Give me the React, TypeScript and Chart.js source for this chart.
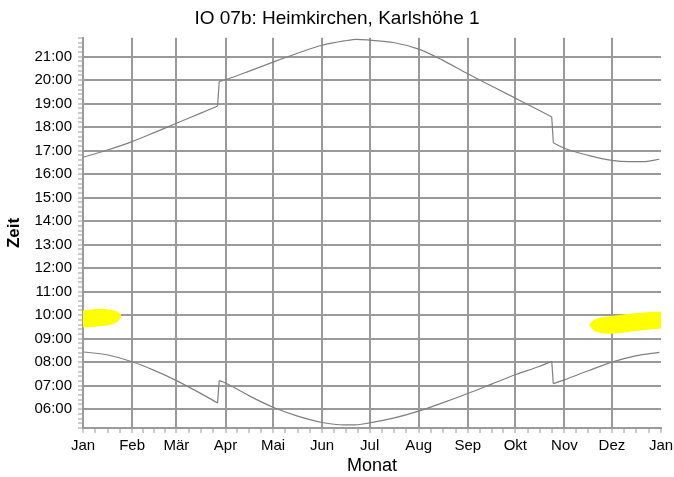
import React, { useEffect, useRef } from "react";
import { Chart, registerables } from "chart.js";

Chart.register(...registerables);

// ---- axis definitions ----
const monthLabels = ["Jan", "Feb", "Mär", "Apr", "Mai", "Jun", "Jul", "Aug", "Sep", "Okt", "Nov", "Dez", "Jan"];
const monthStarts = [0, 31, 59, 90, 120, 151, 181, 212, 243, 273, 304, 334, 365];
const yMinTime = "05:12";
const yMaxTime = "21:48";
const yMinorStepMinutes = 12;

// ---- days of clock change (last day before) ----
const clockChangeDays = [85, 296];

// ---- upper curve (Sonnenuntergang) ----
const sunsetDays = [0, 15, 31, 45, 59, 74, 85, 86, 90, 105, 120, 135, 151, 165, 173, 181, 196, 212, 227, 243, 258, 273, 288, 296, 297, 304, 319, 334, 345, 355, 364];
const sunsetTimes = ["16:43", "17:01", "17:23", "17:46", "18:10", "18:35", "18:54", "19:56", "20:01", "20:23", "20:46", "21:08", "21:29", "21:40", "21:44", "21:42", "21:36", "21:19", "20:51", "20:16", "19:45", "19:14", "18:43", "18:26", "17:20", "17:06", "16:48", "16:35", "16:32", "16:32", "16:38"];

// ---- lower curve (Sonnenaufgang) ----
const sunriseDays = [0, 15, 31, 45, 59, 74, 85, 86, 90, 105, 120, 135, 151, 165, 172, 181, 196, 212, 227, 243, 258, 273, 288, 296, 297, 304, 319, 334, 349, 364];
const sunriseTimes = ["08:26", "08:19", "08:01", "07:39", "07:13", "06:41", "06:16", "07:13", "07:07", "06:34", "06:05", "05:43", "05:26", "05:20", "05:20", "05:25", "05:37", "05:55", "06:16", "06:40", "07:04", "07:28", "07:49", "08:02", "07:05", "07:15", "07:38", "08:00", "08:16", "08:25"];

// ---- shadow flicker areas (yellow) ----
const flickerJanDays = [0, 5, 10, 15, 19, 22, 24];
const flickerJanTop = ["10:11", "10:13", "10:15", "10:14", "10:11", "10:07", "10:00"];
const flickerJanBottom = ["09:30", "09:31", "09:33", "09:35", "09:39", "09:45", "09:58"];

const flickerDecDays = [320, 322, 326, 333, 340, 347, 356, 365];
const flickerDecTop = ["09:36", "09:45", "09:52", "09:56", "10:00", "10:03", "10:06", "10:08"];
const flickerDecBottom = ["09:36", "09:24", "09:17", "09:14", "09:16", "09:20", "09:24", "09:27"];

// ---- helpers ----
const toMin = (s: string) => {
  const [h, m] = s.split(":").map(Number);
  return h * 60 + m;
};
const pts = (days: number[], times: string[]) => days.map((d, i) => ({ x: d, y: toMin(times[i]) }));
const pad2 = (n: number) => (n < 10 ? "0" + n : "" + n);

// split a curve at the clock-change days: smooth pieces + straight jump connectors
function splitCurve(days: number[], times: string[]) {
  const p = pts(days, times);
  const pieces: { x: number; y: number }[][] = [];
  const jumps: { x: number; y: number }[][] = [];
  let start = 0;
  for (let i = 0; i < p.length - 1; i++) {
    if (clockChangeDays.includes(p[i].x)) {
      pieces.push(p.slice(start, i + 1));
      jumps.push([p[i], p[i + 1]]);
      start = i + 1;
    }
  }
  pieces.push(p.slice(start));
  return { pieces, jumps };
}

const FONT = "'Liberation Sans', Arial, Helvetica, sans-serif";
const GRID = "#9a9a9a";
const LINE = "#808080";
const YELLOW = "#ffff00";
const CLEAR = "rgba(0,0,0,0)";

function buildXTicks() {
  const out: number[] = [];
  for (let m = 0; m < 12; m++) {
    const s = monthStarts[m];
    const len = monthStarts[m + 1] - s;
    for (let q = 0; q < 4; q++) out.push(s + (len * q) / 4);
  }
  out.push(365);
  return out;
}

function buildYTicks() {
  const out: number[] = [];
  for (let v = toMin(yMinTime); v <= toMin(yMaxTime); v += yMinorStepMinutes) out.push(v);
  return out;
}

export default function App() {
  const ref = useRef<HTMLCanvasElement | null>(null);

  useEffect(() => {
    if (!ref.current) return;
    const xTicks = buildXTicks();
    const yTicks = buildYTicks();
    const flickerStyle = {
      borderColor: YELLOW,
      backgroundColor: YELLOW,
      borderWidth: 1,
      pointRadius: 0,
      cubicInterpolationMode: "monotone" as const,
    };
    const smoothStyle = {
      borderColor: LINE,
      backgroundColor: LINE,
      borderWidth: 1.2,
      pointRadius: 0,
      cubicInterpolationMode: "monotone" as const,
      fill: false,
    };
    const jumpStyle = {
      borderColor: LINE,
      backgroundColor: LINE,
      borderWidth: 1.2,
      pointRadius: 0,
      tension: 0,
      fill: false,
    };
    const sunset = splitCurve(sunsetDays, sunsetTimes);
    const sunrise = splitCurve(sunriseDays, sunriseTimes);
    const curveSets = [sunset, sunrise].flatMap((c) => [
      ...c.pieces.map((d) => ({ ...smoothStyle, data: d })),
      ...c.jumps.map((d) => ({ ...jumpStyle, data: d })),
    ]);

    const chart = new Chart(ref.current, {
      type: "line",
      data: {
        datasets: [
          { ...flickerStyle, data: pts(flickerJanDays, flickerJanTop), fill: false },
          { ...flickerStyle, data: pts(flickerJanDays, flickerJanBottom), fill: "-1" },
          { ...flickerStyle, data: pts(flickerDecDays, flickerDecTop), fill: false },
          { ...flickerStyle, data: pts(flickerDecDays, flickerDecBottom), fill: "-1" },
          ...curveSets,
        ],
      },
      options: {
        animation: false,
        responsive: false,
        events: [],
        layout: { padding: 0 },
        plugins: {
          legend: { display: false },
          tooltip: { enabled: false },
          title: {
            display: true,
            text: "IO 07b: Heimkirchen, Karlshöhe 1",
            color: "#000",
            font: { family: FONT, size: 19, weight: "normal" },
            padding: { top: 7, bottom: 8 },
          },
        },
        scales: {
          x: {
            type: "linear",
            min: 0,
            max: 365,
            afterBuildTicks: (s: any) => {
              s.ticks = xTicks.map((v) => ({ value: v }));
            },
            afterFit: (s: any) => {
              s.height = 49;
              s.paddingRight = 13;
              s.paddingLeft = 0;
            },
            ticks: {
              autoSkip: false,
              maxRotation: 0,
              minRotation: 0,
              padding: 4,
              color: "#000",
              font: { family: FONT, size: 15 },
              callback: (v: any) => {
                const i = monthStarts.indexOf(Number(v));
                return i >= 0 ? monthLabels[i] : "";
              },
            },
            grid: {
              color: (c: any) => {
                const v = c.tick ? c.tick.value : -1;
                return monthStarts.indexOf(v) >= 0 && v !== 365 ? GRID : CLEAR;
              },
              lineWidth: 2,
              tickColor: GRID,
              tickWidth: 1,
              tickLength: 5,
            },
            border: { color: GRID, width: 2 },
            title: {
              display: true,
              text: "Monat",
              color: "#000",
              font: { family: FONT, size: 18 },
              padding: { top: 0, bottom: 0 },
            },
          },
          y: {
            type: "linear",
            min: toMin(yMinTime),
            max: toMin(yMaxTime),
            afterBuildTicks: (s: any) => {
              s.ticks = yTicks.map((v) => ({ value: v }));
            },
            afterFit: (s: any) => {
              s.width = 83;
              s.paddingTop = 0;
              s.paddingBottom = 0;
            },
            ticks: {
              autoSkip: false,
              padding: 6,
              color: "#000",
              font: { family: FONT, size: 15 },
              callback: (v: any) => {
                const n = Number(v);
                return n % 60 === 0 ? pad2(n / 60) + ":00" : "";
              },
            },
            grid: {
              color: (c: any) => {
                const v = c.tick ? c.tick.value : -1;
                return v % 60 === 0 ? GRID : CLEAR;
              },
              lineWidth: 2,
              tickColor: GRID,
              tickWidth: 1,
              tickLength: 5,
            },
            border: { color: GRID, width: 2 },
            title: {
              display: true,
              text: "Zeit",
              color: "#000",
              font: { family: FONT, size: 17, weight: "bold" },
              padding: { top: 4, bottom: 0 },
            },
          },
        },
      },
    } as any);
    return () => chart.destroy();
  }, []);

  return (
    <div style={{ position: "absolute", left: 0, top: 0, width: 674, height: 477, background: "#fff" }}>
      <canvas ref={ref} width={674} height={477} style={{ display: "block" }} />
    </div>
  );
}
